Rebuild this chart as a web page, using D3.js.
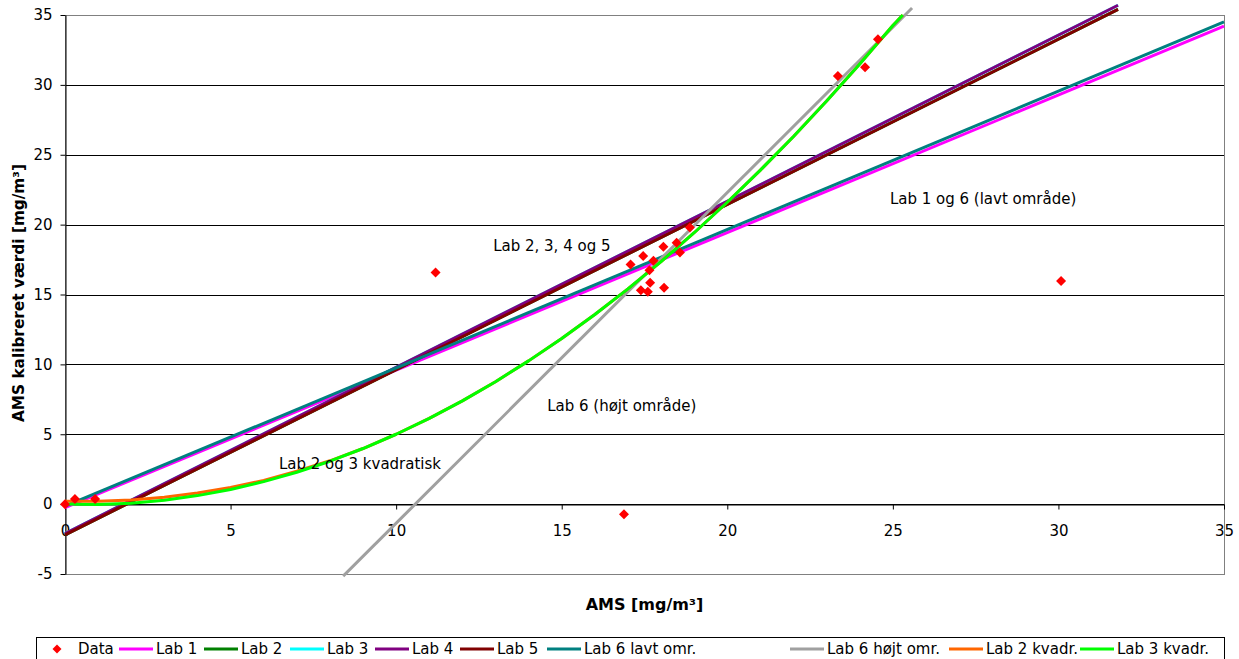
<!DOCTYPE html>
<html>
<head>
<meta charset="utf-8">
<script src="https://cdnjs.cloudflare.com/ajax/libs/d3/7.8.5/d3.min.js"></script>
<style>
    body { margin: 0; background: #ffffff; }
    svg { display: block; font-family: "DejaVu Sans", Verdana, sans-serif; }
</style>
</head>
<body>
<div id="amsChart"></div>
<script>

// Tick values for both axes
var xTicks = [0, 5, 10, 15, 20, 25, 30, 35];
var yTicks = [-5, 0, 5, 10, 15, 20, 25, 30, 35];

// Measured points (AMS vs calibrated AMS)
var dataX = [0, 0.30, 0.91, 11.19, 16.88, 17.08, 17.46, 17.39, 17.60, 17.67, 17.65, 17.77, 18.09, 18.07, 18.47, 18.57, 18.87, 23.34, 24.16, 24.55, 30.08];
var dataY = [0, 0.36, 0.36, 16.58, -0.72, 17.15, 17.75, 15.31, 15.19, 15.84, 16.74, 17.41, 15.48, 18.41, 18.70, 18.01, 19.80, 30.63, 31.27, 33.27, 15.96];

// Calibration lines
var lab1X = [0, 35];
var lab1Y = [-0.25, 34.2];
var lab2X = [0, 31.8];
var lab2Y = [-2.2, 35.4];
var lab3X = [0, 31.8];
var lab3Y = [-2.1, 35.7];
var lab4X = [0, 31.8];
var lab4Y = [-2.1, 35.7];
var lab5X = [0, 31.8];
var lab5Y = [-2.2, 35.4];
var lab6LavtX = [0, 35];
var lab6LavtY = [-0.15, 34.5];
var lab6HoejtX = [8.4, 25.58];
var lab6HoejtY = [-5.15, 35.5];

// Quadratic calibration curves
var lab2KvadrX = [0, 1, 2, 3, 4, 5, 6, 7, 8, 9, 10, 11, 12, 13, 14, 15, 16, 17, 18, 19, 20, 21, 22, 23, 24, 25, 25.3];
var lab2KvadrY = [0.2, 0.2, 0.3, 0.5, 0.8, 1.2, 1.7, 2.35, 3.1, 3.98, 5.0, 6.14, 7.39, 8.76, 10.25, 11.85, 13.57, 15.4, 17.35, 19.42, 21.6, 23.9, 26.31, 28.84, 31.49, 34.25, 35.0];
var lab3KvadrX = [0, 1, 2, 3, 4, 5, 6, 7, 8, 9, 10, 11, 12, 13, 14, 15, 16, 17, 18, 19, 20, 21, 22, 23, 24, 25, 25.3];
var lab3KvadrY = [0, -0.02, 0.07, 0.28, 0.61, 1.05, 1.61, 2.28, 3.07, 3.98, 5.0, 6.14, 7.39, 8.76, 10.25, 11.85, 13.57, 15.4, 17.35, 19.42, 21.6, 23.9, 26.31, 28.84, 31.49, 34.25, 35.0];

// Legend names, in drawing order
var legendNames = ["Data", "Lab 1", "Lab 2", "Lab 3", "Lab 4", "Lab 5", "Lab 6 lavt omr.", "Lab 6 højt omr.", "Lab 2 kvadr.", "Lab 3 kvadr."];

// Setting chart parameters
var properties = {
    width: 1239,
    height: 659,
    margin: { top: 15, right: 15, bottom: 85, left: 65 },
    fontSize: 15,
    lineWidth: 3,
    legendTop: 637,
    legendLeft: 36,
    legendSlots: [57, 119, 204, 290, 375, 460, 547, 790, 949, 1080]
};

var chartDimensions = {
    width: properties.width - properties.margin.left - properties.margin.right,
    height: properties.height - properties.margin.top - properties.margin.bottom
};

// Series colours
var colors = {
    "Data": "#ff0000",
    "Lab 1": "#ff00ff",
    "Lab 2": "#008000",
    "Lab 3": "#00ffff",
    "Lab 4": "#800080",
    "Lab 5": "#800000",
    "Lab 6 lavt omr.": "#008080",
    "Lab 6 højt omr.": "#a0a0a0",
    "Lab 2 kvadr.": "#ff6600",
    "Lab 3 kvadr.": "#00ff00"
};

// Pairing x and y arrays into point lists
function zipPoints(xs, ys) {
    return xs.map(function (x, i) { return { x: x, y: ys[i] }; });
}

var lineSeries = [
    { name: "Lab 1", points: zipPoints(lab1X, lab1Y) },
    { name: "Lab 2", points: zipPoints(lab2X, lab2Y) },
    { name: "Lab 3", points: zipPoints(lab3X, lab3Y) },
    { name: "Lab 4", points: zipPoints(lab4X, lab4Y) },
    { name: "Lab 5", points: zipPoints(lab5X, lab5Y) },
    { name: "Lab 6 lavt omr.", points: zipPoints(lab6LavtX, lab6LavtY) },
    { name: "Lab 6 højt omr.", points: zipPoints(lab6HoejtX, lab6HoejtY) },
    { name: "Lab 2 kvadr.", points: zipPoints(lab2KvadrX, lab2KvadrY) },
    { name: "Lab 3 kvadr.", points: zipPoints(lab3KvadrX, lab3KvadrY) }
];
var dataPoints = zipPoints(dataX, dataY);

// Appending the chart SVG
var svg = d3.select("#amsChart")
    .append("svg")
    .attr("width", properties.width)
    .attr("height", properties.height);

var chartContent = svg.append("g")
    .attr("transform", "translate(" + properties.margin.left + "," + properties.margin.top + ")");

// Defining the scales
var xScale = d3.scaleLinear().domain([0, 35]).range([0, chartDimensions.width]);
var yScale = d3.scaleLinear().domain([-5, 35]).range([chartDimensions.height, 0]);

// Plain hyphen for negative tick labels, as in the original
function tickText(d) { return String(d); }

// Adding horizontal gridlines
chartContent.append("g")
    .attr("class", "grid")
    .selectAll("line")
    .data(yTicks.filter(function (d) { return d > -5 && d < 35; }))
    .enter()
    .append("line")
    .attr("x1", 0)
    .attr("x2", chartDimensions.width)
    .attr("y1", function (d) { return Math.round(yScale(d)) + 0.5; })
    .attr("y2", function (d) { return Math.round(yScale(d)) + 0.5; })
    .attr("stroke", "#000")
    .attr("stroke-width", 1);

// Adding the plot area border
chartContent.append("rect")
    .attr("x", 0.5)
    .attr("y", 0.5)
    .attr("width", chartDimensions.width)
    .attr("height", chartDimensions.height)
    .attr("fill", "none")
    .attr("stroke", "#808080")
    .attr("stroke-width", 1);

// Adding the y axis
chartContent.append("g")
    .attr("class", "y axis")
    .attr("transform", "translate(0.5,0)")
    .call(d3.axisLeft(yScale).tickValues(yTicks).tickFormat(tickText).tickSize(5).tickSizeOuter(0).tickPadding(8));

// Adding the x axis on the zero line
chartContent.append("g")
    .attr("class", "x axis")
    .attr("transform", "translate(0," + (Math.round(yScale(0)) + 0.5) + ")")
    .call(d3.axisBottom(xScale).tickValues(xTicks).tickFormat(tickText).tickSize(5).tickSizeOuter(0).tickPadding(16));

chartContent.selectAll(".axis path, .axis line").attr("stroke", "#000");
chartContent.selectAll(".axis text")
    .attr("fill", "#000")
    .style("font-size", properties.fontSize + "px")
    .style("font-family", "'DejaVu Sans', Verdana, sans-serif");

// Line generator for the calibration lines
var lineGen = d3.line()
    .x(function (d) { return xScale(d.x); })
    .y(function (d) { return yScale(d.y); });

chartContent.append("g")
    .attr("class", "calibration-lines")
    .selectAll("path")
    .data(lineSeries)
    .enter()
    .append("path")
    .attr("d", function (d) { return lineGen(d.points); })
    .attr("fill", "none")
    .attr("stroke", function (d) { return colors[d.name]; })
    .attr("stroke-width", properties.lineWidth)
    .attr("stroke-linejoin", "round");

// Adding the measured points as diamonds
var diamond = "M0,-5L5,0L0,5L-5,0Z";
chartContent.append("g")
    .attr("class", "data-points")
    .selectAll("path")
    .data(dataPoints)
    .enter()
    .append("path")
    .attr("d", diamond)
    .attr("transform", function (d) { return "translate(" + xScale(d.x) + "," + yScale(d.y) + ")"; })
    .attr("fill", colors["Data"]);

// Adding the line annotations
var annotations = chartContent.append("g")
    .attr("font-size", properties.fontSize)
    .attr("fill", "#000");

annotations.append("text").attr("x", xScale(24.91)).attr("y", yScale(21.47)).text("Lab 1 og 6 (lavt område)");
annotations.append("text").attr("x", xScale(12.93)).attr("y", yScale(18.10)).text("Lab 2, 3, 4 og 5");
annotations.append("text").attr("x", xScale(14.56)).attr("y", yScale(6.65)).text("Lab 6 (højt område)");
annotations.append("text").attr("x", xScale(6.46)).attr("y", yScale(2.50)).text("Lab 2 og 3 kvadratisk");

// Adding axis titles
svg.append("text")
    .attr("x", properties.margin.left + chartDimensions.width / 2)
    .attr("y", 610)
    .attr("text-anchor", "middle")
    .attr("font-weight", "bold")
    .attr("font-size", 16)
    .text("AMS [mg/m³]");

svg.append("text")
    .attr("transform", "translate(24,293) rotate(-90)")
    .attr("text-anchor", "middle")
    .attr("font-weight", "bold")
    .attr("font-size", 15.3)
    .text("AMS kalibreret værdi [mg/m³]");

// Adding legend box
var legend = svg.append("g").attr("class", "legend");

legend.append("rect")
    .attr("x", properties.legendLeft + 0.5)
    .attr("y", properties.legendTop + 0.5)
    .attr("width", properties.width - properties.margin.right - properties.legendLeft)
    .attr("height", 40)
    .attr("fill", "#fff")
    .attr("stroke", "#000");

var legendItems = legend.selectAll(".legend-item")
    .data(legendNames)
    .enter()
    .append("g")
    .attr("class", "legend-item")
    .attr("transform", function (d, i) { return "translate(" + properties.legendSlots[i] + "," + (properties.legendTop + 12) + ")"; });

legendItems.filter(function (d) { return d === "Data"; })
    .append("path")
    .attr("d", "M0,-4.5L4.5,0L0,4.5L-4.5,0Z")
    .attr("fill", colors["Data"]);

legendItems.filter(function (d) { return d !== "Data"; })
    .append("line")
    .attr("x1", 0)
    .attr("x2", 34)
    .attr("y1", 0)
    .attr("y2", 0)
    .attr("stroke", function (d) { return colors[d]; })
    .attr("stroke-width", properties.lineWidth);

legendItems.append("text")
    .attr("x", function (d) { return d === "Data" ? 21 : 37; })
    .attr("dy", "0.36em")
    .attr("font-size", properties.fontSize)
    .attr("fill", "#000")
    .text(function (d) { return d; });

</script>
</body>
</html>
